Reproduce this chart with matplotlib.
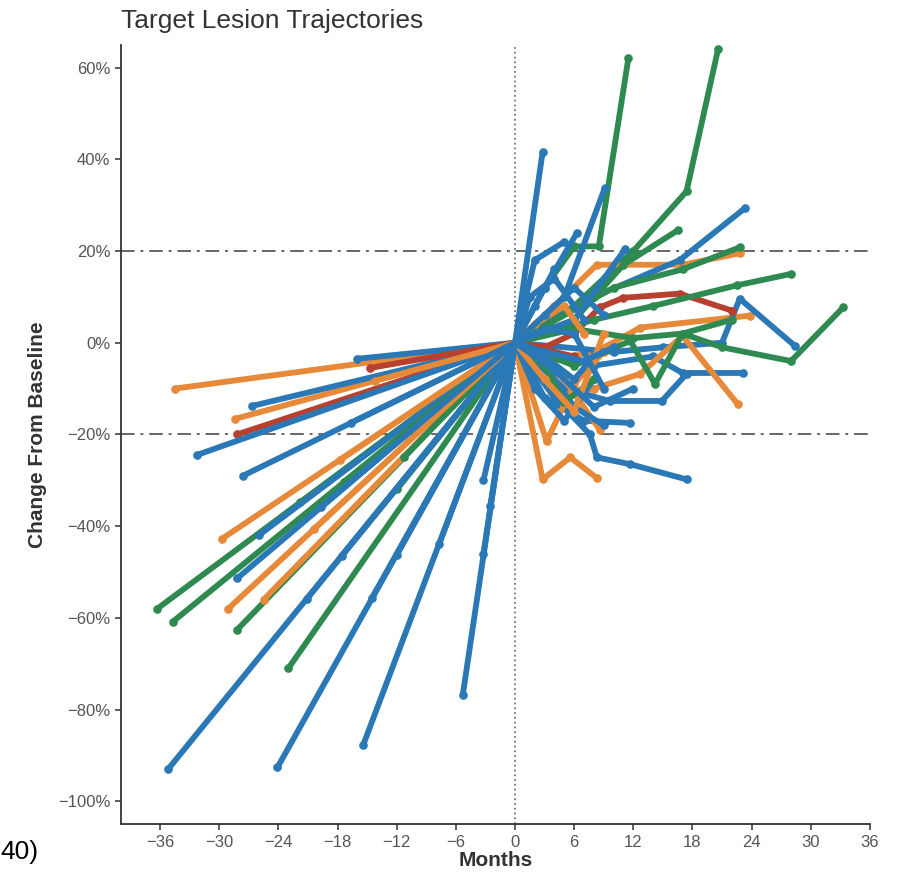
import matplotlib
matplotlib.use("Agg")
import matplotlib.pyplot as plt
from matplotlib.ticker import FuncFormatter

plt.rcParams['font.family'] = ['Liberation Sans', 'DejaVu Sans']

# Arm colours
ARM_COLORS = {
    "blue": "#2a78b5",
    "green": "#2e8a50",
    "orange": "#e68a3a",
    "red": "#b8402f",
}

# One entry per patient: months from baseline and % change from baseline
patient_arm = [
    "green", "blue", "green", "blue", "orange", "green", "blue", "blue",
    "orange", "green", "blue", "red", "blue", "orange", "green", "blue",
    "orange", "blue", "green", "blue", "orange", "blue", "red", "green",
    "blue", "orange", "blue", "blue", "orange", "blue", "blue", "green",
    "blue", "orange", "blue", "blue", "blue", "blue",
]

patient_months = [
    [-36.3, 0, 3, 6, 8.5, 11.5],                  # green
    [-35.2, 0, 2.8],                              # blue
    [-34.7, 0, 6, 12, 17.4, 20.6],                # green
    [-24.1, 0, 3, 6.3],                           # blue
    [-34.5, 0, 4, 8.3, 17, 22.8],                 # orange
    [-28.2, 0, 6, 11, 16.5],                      # green
    [-15.4, 0, 5, 9.1],                           # blue
    [-5.3, 0, 8, 16.7, 23.3],                     # blue
    [-28.4, 0, 4, 8.6, 12.7, 23.8],               # orange
    [-23, 0, 10, 17, 22.8],                       # green
    [-16, 0, 10, 15, 21, 22.8, 28.4],             # blue
    [-28.2, 0, 3, 6, 8.6, 11, 16.7, 22],          # red
    [-26.7, 0, 8, 14, 17, 23.1],                  # blue
    [-29.7, 0, 4, 8, 12.7, 17, 22.6],             # orange
    [-12, 0, 8, 14, 22.5, 28],                    # green
    [-32.3, 0, 5, 9.6, 14.9, 17.4],               # blue
    [-29.1, 0, 2.8, 5.6, 8.3],                    # orange
    [-27.6, 0, 4, 7.6, 8.3, 11.7, 17.4],          # blue
    [-21.8, 0, 6, 12, 17, 21, 28, 33.3],          # green
    [-28.2, 0, 3, 7, 11.7],                       # blue
    [-25.5, 0, 3.2, 6, 9],                        # orange
    [-26, 0, 6, 11.2],                            # blue
    [-14.7, 0, 3, 6],                             # red
    [-17.4, 0, 6, 11.7, 14.2, 17, 22],            # green
    [-3.2, 0, 2, 4],                              # blue
    [-17.8, 0, 5, 8.6],                           # orange
    [-2.5, 0, 3, 6, 9],                           # blue
    [-17.6, 0, 2, 5, 8],                          # blue
    [-14.2, 0, 2, 5, 7],                          # orange
    [-12, 0, 3, 6, 9],                            # blue
    [-7.7, 0, 3, 6, 8],                           # blue
    [-11.3, 0, 3, 5, 8],                          # green
    [-21.1, 0, 2, 5],                             # blue
    [-20.4, 0, 3, 6, 9],                          # orange
    [-14.5, 0, 3, 6, 9],                          # blue
    [-19.7, 0, 4, 8, 12],                         # blue
    [-3.2, 0, 1.5, 4, 7],                         # blue
    [-16.6, 0, 3, 7, 10],                         # blue
]

patient_change = [
    [-58, 0, 12, 21, 21, 62],
    [-93, 0, 41.6],
    [-60.8, 0, 8, 20, 33, 64],
    [-92.6, 0, 12, 24],
    [-10, 0, 8, 17, 17, 19.5],
    [-62.6, 0, 5, 17, 24.5],
    [-87.7, 0, 10, 33.7],
    [-76.8, 0, 10, 18, 29.3],
    [-16.6, 0, -4, -1.5, 3.3, 5.9],
    [-71, 0, 12, 16, 20.8],
    [-3.5, 0, -2, -1, 0, 9.6, -0.7],
    [-20, 0, -1, 2, 7.7, 9.8, 10.7, 7],
    [-13.8, 0, -5, -3, -6.6, -6.6],
    [-42.7, 0, -12, -10, -6.8, 1.5, -13.4],
    [-32, 0, 5, 8, 12.5, 15],
    [-24.5, 0, -10, -12.7, -12.7, -6.8],
    [-58, 0, -29.8, -25, -29.5],
    [-29, 0, -12, -20, -25, -26.5, -29.8],
    [-34.8, 0, 3, 1, 2, -1, -4, 7.7],
    [-51.4, 0, -12, -17, -17.5],
    [-56, 0, -21.5, -9, -2],
    [-42, 0, 5, 20.5],
    [-5.5, 0, -1.5, -3],
    [-30.4, 0, -5, 0.4, -9, 2, 5],
    [-30, 0, 8, 16],
    [-25.6, 0, -8, -19],
    [-35.5, 0, -5, -14, -18],
    [-46.5, 0, -10, -17, -8],
    [-8.3, 0, 4, 8, 2],
    [-46.3, 0, 6, 12, 6],
    [-43.9, 0, -3, -8, -3],
    [-25, 0, -5, -13, -8],
    [-55.8, 0, 18, 22],
    [-40.6, 0, -8, -15, 2],
    [-55.6, 0, 3, 2, -10],
    [-35.9, 0, -6, -14, -10],
    [-46, 0, 10, 14, 5],
    [-17.4, 0, -2, -4, -1],
]

x_ticks = list(range(-36, 37, 6))
y_ticks = list(range(-100, 61, 20))

fig = plt.figure(figsize=(9.08, 8.75), dpi=100)
ax = fig.add_axes([0.133, 0.058, 0.825, 0.891])

for arm, months, change in zip(patient_arm, patient_months, patient_change):
    ax.plot(months, change, color=ARM_COLORS[arm], lw=4.2,
            marker="o", ms=5.2, solid_capstyle="round", solid_joinstyle="round")

# Reference lines
for level in (20, -20):
    ax.axhline(level, color="#666666", lw=1.4, ls="-.", dashes=(7, 3, 1.5, 3),
               zorder=0.5)
ax.axvline(0, color="#777777", lw=1.3, ls=":", zorder=0.5)

ax.set_xlim(-40, 36)
ax.set_ylim(-105, 65)
ax.set_xticks(x_ticks)
ax.set_yticks(y_ticks)
ax.xaxis.set_major_formatter(FuncFormatter(lambda v, p: f"{int(v)}".replace("-", "\u2212")))
ax.yaxis.set_major_formatter(FuncFormatter(lambda v, p: f"{int(v)}%".replace("-", "\u2212")))

for side in ("top", "right"):
    ax.spines[side].set_visible(False)
for side in ("left", "bottom"):
    ax.spines[side].set_color("#333333")
    ax.spines[side].set_linewidth(1.3)
ax.tick_params(axis="both", direction="out", length=4, width=1.1,
               color="#333333", labelcolor="#555555", labelsize=12)

ax.set_xlabel("Months", fontsize=15, fontweight="bold", color="#333333", labelpad=1)
ax.set_ylabel("Change From Baseline", fontsize=15, fontweight="bold",
              color="#333333", labelpad=8)
ax.set_title("Target Lesion Trajectories", loc="left", fontsize=19,
             color="#333333", pad=12)

fig.text(0.0, 0.018, "40)", fontsize=19, color="black")

fig.savefig("out.png", dpi=100)
